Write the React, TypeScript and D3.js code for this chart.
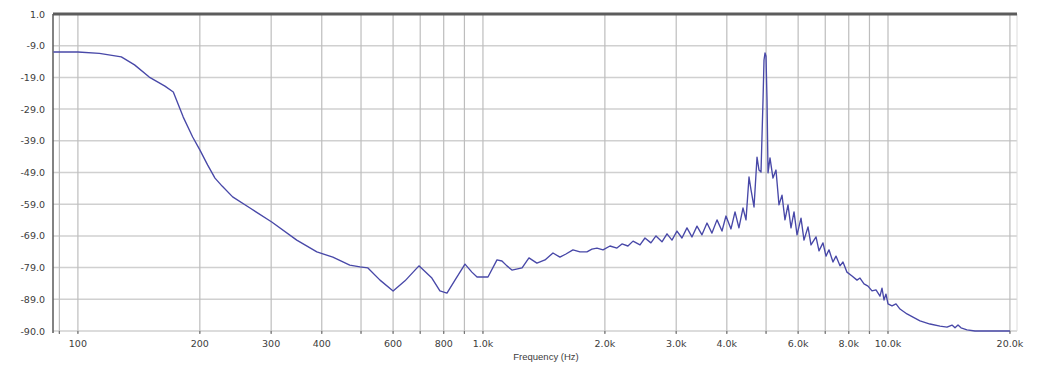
import React from "react";
import * as d3 from "d3";

// Measured magnitude response (frequency in Hz, level in dB)
const freqHz = [
  87, 100, 113, 128, 138, 150, 164, 172, 182, 192, 200, 209, 218, 227, 241, 266, 301, 347, 389, 426,
  469, 497, 520, 557, 600, 642, 695, 748, 783, 815, 853, 903, 939, 967, 1029, 1083, 1114, 1146, 1179, 1249,
  1299, 1359, 1423, 1489, 1549, 1603, 1668, 1736, 1806, 1858, 1912, 1979, 2059, 2142, 2204, 2280, 2347, 2442, 2512, 2598,
  2674, 2767, 2847, 2929, 3013, 3100, 3189, 3281, 3376, 3473, 3574, 3676, 3783, 3892, 3981, 4096, 4191, 4285, 4385, 4461,
  4538, 4590, 4669, 4749, 4803, 4858, 4914, 4942, 4970, 4998, 5027, 5056, 5113, 5200, 5290, 5381, 5474, 5567, 5664, 5761,
  5861, 5962, 6099, 6203, 6346, 6455, 6642, 6755, 6910, 7030, 7150, 7314, 7440, 7612, 7742, 7920, 8150, 8385, 8528, 8725,
  8926, 9131, 9341, 9555, 9665, 9775, 9886, 10000, 10230, 10466, 10706, 11141, 11527, 11995, 12697, 13441, 13986, 14388, 14636, 14888,
  15145, 15668, 16396, 20000,
];
const levelDb = [
  -9.9, -9.9, -10.3, -11.3, -13.6, -17.1, -19.7, -21.4, -28.6, -34.3, -38.0, -42.3, -46.1, -48.4, -51.5, -54.7, -58.7, -63.9, -67.3, -68.8,
  -71.1, -71.6, -71.9, -75.4, -78.5, -75.6, -71.3, -74.8, -78.5, -79.1, -75.4, -70.8, -73.1, -74.5, -74.5, -69.6, -69.9, -71.3, -72.5, -71.9,
  -69.0, -70.5, -69.6, -67.6, -68.8, -67.9, -66.7, -67.3, -67.3, -66.5, -66.2, -66.7, -65.6, -66.2, -65.0, -65.6, -64.2, -65.3, -63.3, -64.7,
  -62.7, -64.4, -62.1, -63.9, -61.3, -63.3, -60.4, -63.0, -59.9, -62.4, -59.0, -61.9, -58.1, -61.3, -57.0, -60.7, -55.8, -60.4, -54.7, -58.1,
  -45.8, -49.5, -54.4, -40.1, -43.8, -44.4, -23.7, -12.2, -10.2, -11.1, -23.7, -44.6, -40.3, -46.1, -43.8, -53.8, -51.0, -58.1, -53.8, -60.4,
  -55.8, -62.4, -57.6, -63.9, -60.1, -65.3, -63.0, -67.0, -64.7, -68.5, -66.7, -70.2, -68.5, -71.3, -70.2, -73.1, -74.2, -75.4, -74.8, -76.5,
  -77.1, -78.5, -78.2, -80.0, -77.7, -81.1, -79.4, -82.2, -82.8, -82.2, -83.7, -85.1, -86.0, -87.1, -88.0, -88.6, -88.9, -88.3, -89.1, -88.3,
  -89.1, -89.7, -90.0, -90.0,
];

// Axis settings
const freqDomain = [86.8, 20820];
const levelDomain = [1, -90];
const gridFreqs = [
  90, 100, 200, 300, 400, 500, 600, 700, 800, 900,
  1000, 2000, 3000, 4000, 5000, 6000, 7000, 8000, 9000, 10000, 20000,
];
const tickFreqs = [100, 200, 300, 400, 600, 800, 1000, 2000, 3000, 4000, 6000, 8000, 10000, 20000];
const tickLabels = ["100", "200", "300", "400", "600", "800", "1.0k", "2.0k", "3.0k", "4.0k", "6.0k", "8.0k", "10.0k", "20.0k"];
const levelLabels = ["1.0", "-9.0", "-19.0", "-29.0", "-39.0", "-49.0", "-59.0", "-69.0", "-79.0", "-89.0", "-90.0"];

const W = 1042;
const H = 366;
const M = { left: 53, right: 25, top: 14, bottom: 35 };

export default function App() {
  const x = d3.scaleLog().domain(freqDomain).range([M.left, W - M.right]);
  const y = d3.scaleLinear().domain(levelDomain).range([M.top, H - M.bottom]);
  const step = (levelDomain[0] - levelDomain[1]) / (levelLabels.length - 1);
  const levelPos = levelLabels.map((_, i) => y(levelDomain[0] - i * step));

  const line = d3
    .line<number>()
    .x((_, i) => x(freqHz[i]))
    .y((d) => y(d))
    .curve(d3.curveLinear);

  const font = "DejaVu Sans, sans-serif";
  const x0 = M.left;
  const x1 = W - M.right;
  const y0 = M.top;
  const y1 = H - M.bottom;

  return (
    <svg
      width={W}
      height={H}
      style={{ position: "absolute", left: 0, top: 0, background: "#fff" }}
    >
      {/* horizontal grid */}
      {levelPos.map((p, i) => (
        <line key={"h" + i} x1={x0} x2={x1} y1={p} y2={p} stroke="#d0d0d0" strokeWidth={1.5} />
      ))}
      {/* vertical grid */}
      {gridFreqs.map((f) => (
        <line key={"v" + f} x1={x(f)} x2={x(f)} y1={y0} y2={y1 + 2} stroke="#bdbdbd" strokeWidth={1.2} />
      ))}
      {/* small tick marks along the bottom */}
      {gridFreqs.map((f) => (
        <line key={"t" + f} x1={x(f)} x2={x(f)} y1={y1} y2={y1 + 3} stroke="#777" strokeWidth={1.2} />
      ))}
      <line x1={x1} x2={x1} y1={y0} y2={y1} stroke="#dcdcdc" strokeWidth={1} />
      {/* frame */}
      <line x1={x0} x2={x1} y1={y0} y2={y0} stroke="#5c5c5c" strokeWidth={3} />
      <line x1={x0} x2={x0} y1={y0} y2={y1 + 2} stroke="#5a5a5a" strokeWidth={1.5} />

      {/* response curve */}
      <path d={line(levelDb) || ""} fill="none" stroke="#4848a8" strokeWidth={1.35} strokeLinejoin="round" />

      {/* level labels */}
      {levelLabels.map((t, i) => (
        <text
          key={"yl" + i}
          x={x0 - 8}
          y={levelPos[i] + 3.5}
          textAnchor="end"
          fontFamily={font}
          fontSize={9.5}
          fill="#3c3c3c"
        >
          {t}
        </text>
      ))}
      {/* frequency labels */}
      {tickFreqs.map((f, i) => (
        <text
          key={"xl" + f}
          x={x(f)}
          y={y1 + 16}
          textAnchor="middle"
          fontFamily={font}
          fontSize={9.5}
          fill="#3c3c3c"
        >
          {tickLabels[i]}
        </text>
      ))}
      <text x={546} y={H - 6} textAnchor="middle" fontFamily="Liberation Sans, Arial, sans-serif" fontSize={9.5} fill="#3c3c3c">
        Frequency (Hz)
      </text>
    </svg>
  );
}
